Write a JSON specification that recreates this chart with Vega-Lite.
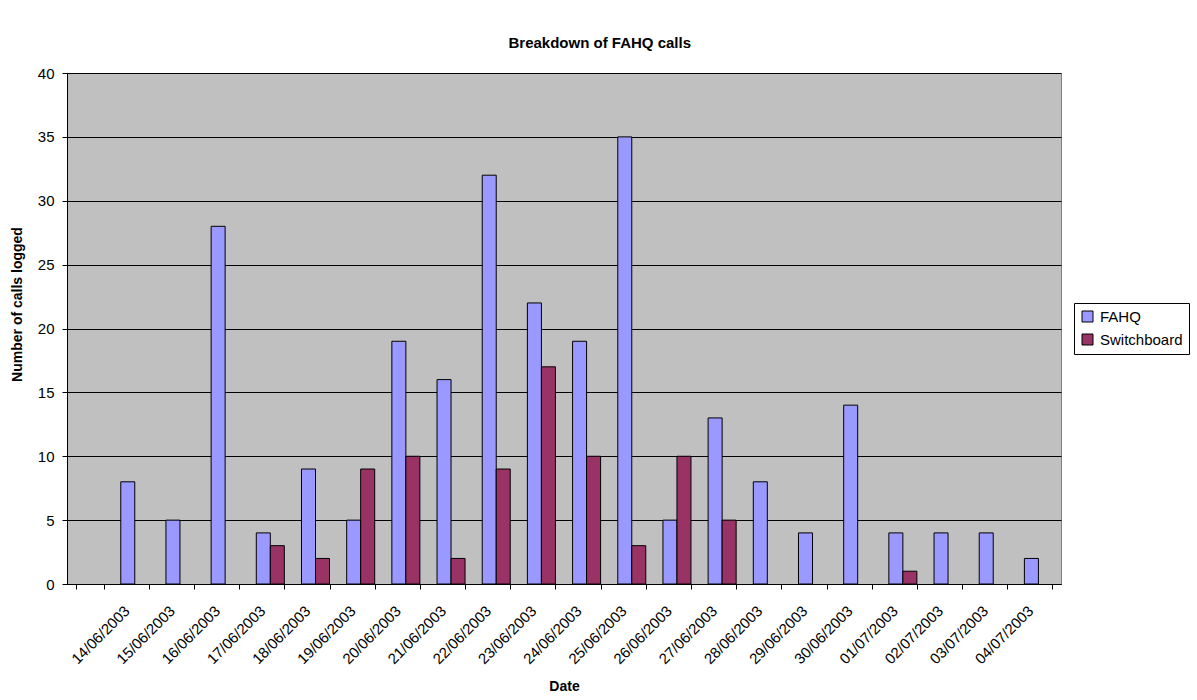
{
  "$schema": "https://vega.github.io/schema/vega-lite/v6.json",
  "width": 994,
  "height": 511,
  "autosize": {"type": "none"},
  "padding": {"left": 67, "top": 73, "right": 136, "bottom": 116},
  "background": "white",
  "title": {
    "text": "Breakdown of FAHQ calls",
    "font": "Liberation Sans",
    "fontSize": 15,
    "fontWeight": "bold",
    "anchor": "middle",
    "frame": "bounds",
    "offset": 15
  },
  "config": {
    "view": {"fill": "#C0C0C0", "stroke": "#808080", "strokeWidth": 1},
    "axis": {
      "labelFont": "Liberation Sans",
      "titleFont": "Liberation Sans",
      "labelFontSize": 15,
      "titleFontSize": 14,
      "titleFontWeight": "bold",
      "labelColor": "black",
      "titleColor": "black",
      "domainColor": "black",
      "tickColor": "black",
      "gridColor": "black",
      "gridOpacity": 1
    },
    "legend": {
      "labelFont": "Liberation Sans",
      "labelFontSize": 15,
      "labelColor": "black"
    }
  },
  "data": {
    "values": [
      {"date": "14/06/2003", "series": "FAHQ", "calls": 8},
      {"date": "14/06/2003", "series": "Switchboard", "calls": 0},
      {"date": "15/06/2003", "series": "FAHQ", "calls": 5},
      {"date": "15/06/2003", "series": "Switchboard", "calls": 0},
      {"date": "16/06/2003", "series": "FAHQ", "calls": 28},
      {"date": "16/06/2003", "series": "Switchboard", "calls": 0},
      {"date": "17/06/2003", "series": "FAHQ", "calls": 4},
      {"date": "17/06/2003", "series": "Switchboard", "calls": 3},
      {"date": "18/06/2003", "series": "FAHQ", "calls": 9},
      {"date": "18/06/2003", "series": "Switchboard", "calls": 2},
      {"date": "19/06/2003", "series": "FAHQ", "calls": 5},
      {"date": "19/06/2003", "series": "Switchboard", "calls": 9},
      {"date": "20/06/2003", "series": "FAHQ", "calls": 19},
      {"date": "20/06/2003", "series": "Switchboard", "calls": 10},
      {"date": "21/06/2003", "series": "FAHQ", "calls": 16},
      {"date": "21/06/2003", "series": "Switchboard", "calls": 2},
      {"date": "22/06/2003", "series": "FAHQ", "calls": 32},
      {"date": "22/06/2003", "series": "Switchboard", "calls": 9},
      {"date": "23/06/2003", "series": "FAHQ", "calls": 22},
      {"date": "23/06/2003", "series": "Switchboard", "calls": 17},
      {"date": "24/06/2003", "series": "FAHQ", "calls": 19},
      {"date": "24/06/2003", "series": "Switchboard", "calls": 10},
      {"date": "25/06/2003", "series": "FAHQ", "calls": 35},
      {"date": "25/06/2003", "series": "Switchboard", "calls": 3},
      {"date": "26/06/2003", "series": "FAHQ", "calls": 5},
      {"date": "26/06/2003", "series": "Switchboard", "calls": 10},
      {"date": "27/06/2003", "series": "FAHQ", "calls": 13},
      {"date": "27/06/2003", "series": "Switchboard", "calls": 5},
      {"date": "28/06/2003", "series": "FAHQ", "calls": 8},
      {"date": "28/06/2003", "series": "Switchboard", "calls": 0},
      {"date": "29/06/2003", "series": "FAHQ", "calls": 4},
      {"date": "29/06/2003", "series": "Switchboard", "calls": 0},
      {"date": "30/06/2003", "series": "FAHQ", "calls": 14},
      {"date": "30/06/2003", "series": "Switchboard", "calls": 0},
      {"date": "01/07/2003", "series": "FAHQ", "calls": 4},
      {"date": "01/07/2003", "series": "Switchboard", "calls": 1},
      {"date": "02/07/2003", "series": "FAHQ", "calls": 4},
      {"date": "02/07/2003", "series": "Switchboard", "calls": 0},
      {"date": "03/07/2003", "series": "FAHQ", "calls": 4},
      {"date": "03/07/2003", "series": "Switchboard", "calls": 0},
      {"date": "04/07/2003", "series": "FAHQ", "calls": 2},
      {"date": "04/07/2003", "series": "Switchboard", "calls": 0}
    ]
  },
  "mark": {"type": "bar", "strokeWidth": 1},
  "encoding": {
    "x": {
      "field": "date",
      "type": "nominal",
      "sort": null,
      "scale": {
        "domain": [" ", "14/06/2003", "15/06/2003", "16/06/2003", "17/06/2003", "18/06/2003", "19/06/2003", "20/06/2003", "21/06/2003", "22/06/2003", "23/06/2003", "24/06/2003", "25/06/2003", "26/06/2003", "27/06/2003", "28/06/2003", "29/06/2003", "30/06/2003", "01/07/2003", "02/07/2003", "03/07/2003", "04/07/2003"],
        "paddingInner": 0.38,
        "paddingOuter": 0.19
      },
      "axis": {
        "title": "Date",
        "labelAngle": -45,
        "tickBand": "extent",
        "tickSize": 5,
        "labelPadding": 14,
        "labelOffset": -13,
        "titleY": 106,
        "titleBaseline": "alphabetic",
        "grid": false
      }
    },
    "xOffset": {
      "field": "series",
      "type": "nominal",
      "scale": {"domain": ["FAHQ", "Switchboard"], "paddingInner": 0, "paddingOuter": 0}
    },
    "y": {
      "field": "calls",
      "type": "quantitative",
      "scale": {"domain": [0, 40]},
      "axis": {
        "title": "Number of calls logged",
        "values": [0, 5, 10, 15, 20, 25, 30, 35, 40],
        "grid": true,
        "tickSize": 5,
        "labelPadding": 8,
        "titleX": -50,
        "titleY": 231,
        "titleBaseline": "middle",
        "titleAlign": "center"
      }
    },
    "stroke": {
      "condition": {"test": "datum.calls == 0", "value": null},
      "value": "black"
    },
    "color": {
      "field": "series",
      "type": "nominal",
      "scale": {"domain": ["FAHQ", "Switchboard"], "range": ["#9999FF", "#993366"]},
      "legend": {
        "title": null,
        "orient": "none",
        "legendX": 1007,
        "legendY": 230,
        "symbolType": "square",
        "symbolSize": 121,
        "symbolStrokeColor": "black",
        "symbolStrokeWidth": 1,
        "symbolOpacity": 1,
        "strokeColor": "black",
        "fillColor": "white",
        "padding": 6,
        "labelOffset": 5,
        "rowPadding": 7,
        "labelFontSize": 15
      }
    }
  }
}
